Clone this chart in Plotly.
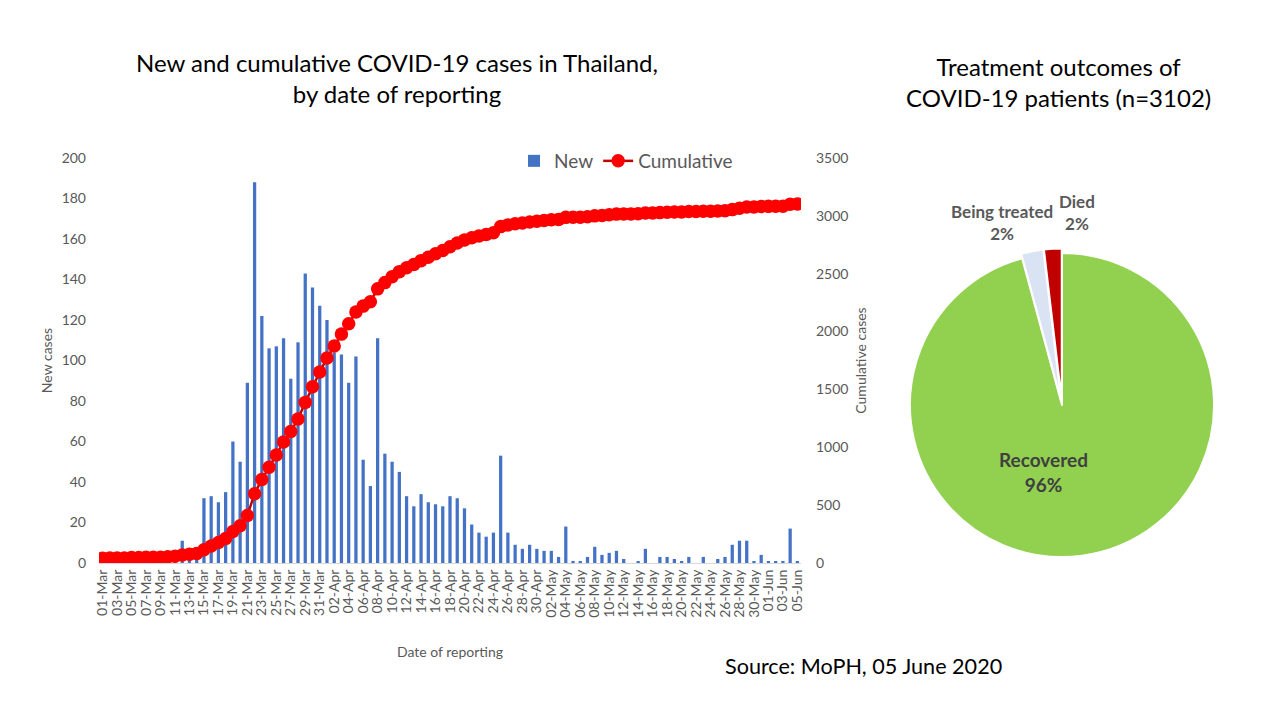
import datetime as dt
import plotly.graph_objs as go

# daily new cases, 01-Mar to 05-Jun 2020
dates = [(dt.date(2020, 3, 1) + dt.timedelta(days=i)).strftime('%d-%b') for i in range(97)]

new_cases = [
    0, 1, 0, 0, 4, 1, 2, 0, 0, 3, 6, 11, 5, 7, 32, 33, 30, 35, 60, 50,
    89, 188, 122, 106, 107, 111, 91, 109, 143, 136, 127,
    120, 104, 103, 89, 102, 51, 38, 111, 54, 50, 45, 33, 28, 34, 30, 29, 28, 33, 32,
    27, 19, 15, 13, 15, 53, 15, 9, 7, 9, 7,
    6, 6, 3, 18, 1, 1, 3, 8, 4, 5, 6, 2, 0, 1, 7, 0, 3, 3, 2, 1,
    3, 0, 3, 0, 2, 3, 9, 11, 11, 1, 4,
    1, 1, 1, 17, 1,
]

cumulative = [
    42, 43, 43, 43, 47, 48, 50, 50, 50, 53, 59, 70, 75, 82, 114, 147, 177, 212, 272, 322,
    411, 599, 721, 827, 934, 1045, 1136, 1245, 1388, 1524, 1651,
    1771, 1875, 1978, 2067, 2169, 2220, 2258, 2369, 2423, 2473, 2518, 2551, 2579, 2613, 2643,
    2672, 2700, 2733, 2765, 2792, 2811, 2826, 2839, 2854, 2907, 2922, 2931, 2938, 2947, 2954,
    2960, 2966, 2969, 2987, 2988, 2989, 2992, 3000, 3004, 3009, 3015, 3017, 3017, 3018, 3025,
    3025, 3028, 3031, 3033, 3034, 3037, 3037, 3040, 3040, 3042, 3045, 3054, 3065, 3076, 3077,
    3081, 3082, 3083, 3084, 3101, 3102,
]

outcome_labels = ['Recovered', 'Being treated', 'Died']
outcome_values = [2971, 73, 58]
outcome_colors = ['#92D050', '#DAE3F3', '#C00000']

FONT = 'Lato'
GREY = '#595959'

# page has an 8px body margin, so the figure is drawn 16px smaller;
# fixed 12px margins so nothing gets auto-pushed
W, H, OFF, M = 1264, 704, 8, 12
X0, Y0 = OFF + M, OFF + M
PW, PH = W - 2 * M, H - 2 * M


def px(x):
    return (x - X0) / PW


def py(y):
    return 1 - (y - Y0) / PH


bars = go.Bar(
    x=dates, y=new_cases, name='New',
    marker=dict(color='#4472C4', line=dict(width=0)),
    xaxis='x', yaxis='y',
)
line = go.Scatter(
    x=dates, y=cumulative, name='Cumulative', mode='lines+markers',
    line=dict(color='#C00000', width=2.5),
    marker=dict(color='#FF0000', size=13.5),
    xaxis='x', yaxis='y2',
)
pie = go.Pie(
    labels=outcome_labels, values=outcome_values,
    marker=dict(colors=outcome_colors, line=dict(color='white', width=2)),
    sort=False, direction='clockwise', rotation=0,
    pull=[0, 0.03, 0.03],
    textinfo='none', hoverinfo='label+percent',
    showlegend=False,
    domain=dict(x=[px(905.4), px(1218.6)], y=[py(561.6), py(248.4)]),
)

layout = go.Layout(
    width=W, height=H,
    margin=dict(l=M, r=M, t=M, b=M, autoexpand=False),
    paper_bgcolor='white', plot_bgcolor='white',
    font=dict(family=FONT, color=GREY, size=14),
    bargap=0.55,
    xaxis=dict(
        domain=[px(99), px(801)],
        type='category', automargin=False,
        tickmode='array', tickvals=dates[::2], ticktext=dates[::2],
        tickangle=-90, tickfont=dict(size=14, color=GREY),
        showline=True, linecolor='#D9D9D9', linewidth=1,
        showgrid=False, ticks='',
        range=[-0.5, 96.5],
        title=dict(text='Date of reporting', font=dict(size=14, color=GREY), standoff=30),
        anchor='y',
    ),
    yaxis=dict(
        domain=[py(563), py(158)], automargin=False,
        range=[0, 200], dtick=20,
        showgrid=False, zeroline=False, showline=False, ticks='',
        tickfont=dict(size=14, color=GREY), ticklabelstandoff=12,
        title=dict(text='New cases', font=dict(size=14, color=GREY), standoff=5),
    ),
    yaxis2=dict(
        overlaying='y', side='right', anchor='x', automargin=False,
        range=[0, 3500], dtick=500,
        showgrid=False, zeroline=False, showline=False, ticks='',
        tickfont=dict(size=14, color=GREY), ticklabelstandoff=14,
        title=dict(text='Cumulative cases', font=dict(size=14, color=GREY), standoff=8),
    ),
    legend=dict(
        orientation='h', x=px(514), y=py(161), xanchor='left', yanchor='middle',
        font=dict(size=19, color=GREY), bgcolor='rgba(0,0,0,0)',
        itemwidth=30,
    ),
    annotations=[
        dict(text='New and cumulative COVID-19 cases in Thailand,<br>by date of reporting',
             x=px(397), y=py(78), xref='paper', yref='paper',
             xanchor='center', yanchor='middle',
             showarrow=False, font=dict(size=24, color='black', family=FONT)),
        dict(text='Treatment outcomes of<br>COVID-19 patients (n=3102)',
             x=px(1058), y=py(82), xref='paper', yref='paper',
             xanchor='center', yanchor='middle',
             showarrow=False, font=dict(size=24, color='black', family=FONT)),
        dict(text='<b>Recovered<br>96%</b>',
             x=px(1043), y=py(472), xref='paper', yref='paper',
             xanchor='center', yanchor='middle',
             showarrow=False, font=dict(size=19, color='#404040', family=FONT)),
        dict(text='<b>Being treated<br>2%</b>',
             x=px(1002), y=py(222), xref='paper', yref='paper',
             xanchor='center', yanchor='middle',
             showarrow=False, font=dict(size=17, color=GREY, family=FONT)),
        dict(text='<b>Died<br>2%</b>',
             x=px(1077), y=py(212), xref='paper', yref='paper',
             xanchor='center', yanchor='middle',
             showarrow=False, font=dict(size=17, color=GREY, family=FONT)),
        dict(text='Source: MoPH, 05 June 2020',
             x=px(723), y=py(666), xref='paper', yref='paper',
             xanchor='left', yanchor='middle', showarrow=False,
             font=dict(size=21.6, color='black', family=FONT)),
    ],
)

fig = go.Figure(data=[bars, line, pie], layout=layout)
fig.write_html('out.html')
